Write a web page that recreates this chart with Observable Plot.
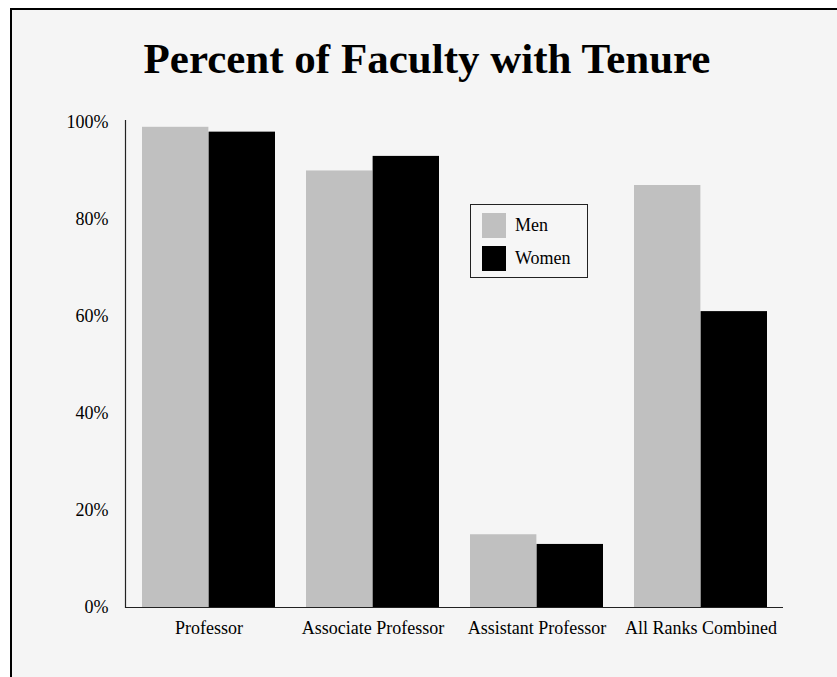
<!DOCTYPE html>
<html>
<head>
<meta charset="utf-8">
<script src="https://cdn.jsdelivr.net/npm/d3@7"></script>
<script src="https://cdn.jsdelivr.net/npm/@observablehq/plot@0.6"></script>
<style>
  html, body { margin: 0; padding: 0; background: #fff; }
  body { width: 837px; height: 677px; position: relative; overflow: hidden; font-family: "Liberation Serif", "DejaVu Serif", serif; }
  #panel { position: absolute; left: 10px; top: 8px; width: 840px; height: 680px; background: #f5f5f5; border-top: 2px solid #000; border-left: 2px solid #000; }
  #title { position: absolute; left: 0; width: 854px; top: 37px; text-align: center; font-size: 43px; line-height: 43px; font-weight: bold; color: #000; }
  #chart { position: absolute; left: 0; top: 0; }
  #legend { position: absolute; left: 470px; top: 204px; width: 118px; height: 74px; box-sizing: border-box; border: 1.5px solid #222; background: #f6f6f6; }
  .row { position: absolute; left: 11px; height: 25px; display: flex; align-items: center; font-size: 18px; }
  .sw { width: 24px; height: 25px; margin-right: 9px; }
</style>
</head>
<body>
<div id="panel"></div>
<div id="chart"></div>
<div id="title">Percent of Faculty with Tenure</div>
<div id="legend"></div>
<script>
const categories = ["Professor", "Associate Professor", "Assistant Professor", "All Ranks Combined"];
const men = [99, 90, 15, 87];
const women = [98, 93, 13, 61];
const series = ["Men", "Women"];
const seriesColors = ["#c0c0c0", "#000000"];
const yTicks = [0, 20, 40, 60, 80, 100];

const W = 837, H = 677;
const mL = 125, mR = 54, mT = 120, mB = 70;
const padIn = 0.19, padOut = 0.095;
const step = (W - mL - mR) / (categories.length - padIn + 2 * padOut);
const bw = step * (1 - padIn);

const rows = categories.map((c, i) => ({category: c, men: men[i], women: women[i]}));

const plot = Plot.plot({
  width: W,
  height: H,
  marginLeft: mL,
  marginRight: mR,
  marginTop: mT,
  marginBottom: mB,
  style: { background: "transparent", fontFamily: "'Liberation Serif', serif", fontSize: "18px", color: "#000" },
  x: { domain: categories, paddingInner: padIn, paddingOuter: padOut, label: null, tickSize: 0, tickPadding: 14 },
  y: { domain: [0, 100.4], ticks: yTicks, tickFormat: d => d + "%", label: null, tickSize: 0, tickPadding: 17 },
  marks: [
    Plot.barY(rows, { x: "category", y: "men", fill: seriesColors[0], insetRight: bw / 2 }),
    Plot.barY(rows, { x: "category", y: "women", fill: seriesColors[1], insetLeft: bw / 2 }),
    Plot.ruleY([0], { stroke: "#222", strokeWidth: 1.2 }),
    Plot.frame({ anchor: "left", stroke: "#222", strokeWidth: 1.2 })
  ]
});
document.getElementById("chart").appendChild(plot);

const legend = document.getElementById("legend");
series.forEach((s, i) => {
  const r = document.createElement("div");
  r.className = "row";
  r.style.top = (8 + i * 33) + "px";
  r.innerHTML = `<div class="sw" style="background:${seriesColors[i]}"></div><span>${s}</span>`;
  legend.appendChild(r);
});
</script>
</body>
</html>
